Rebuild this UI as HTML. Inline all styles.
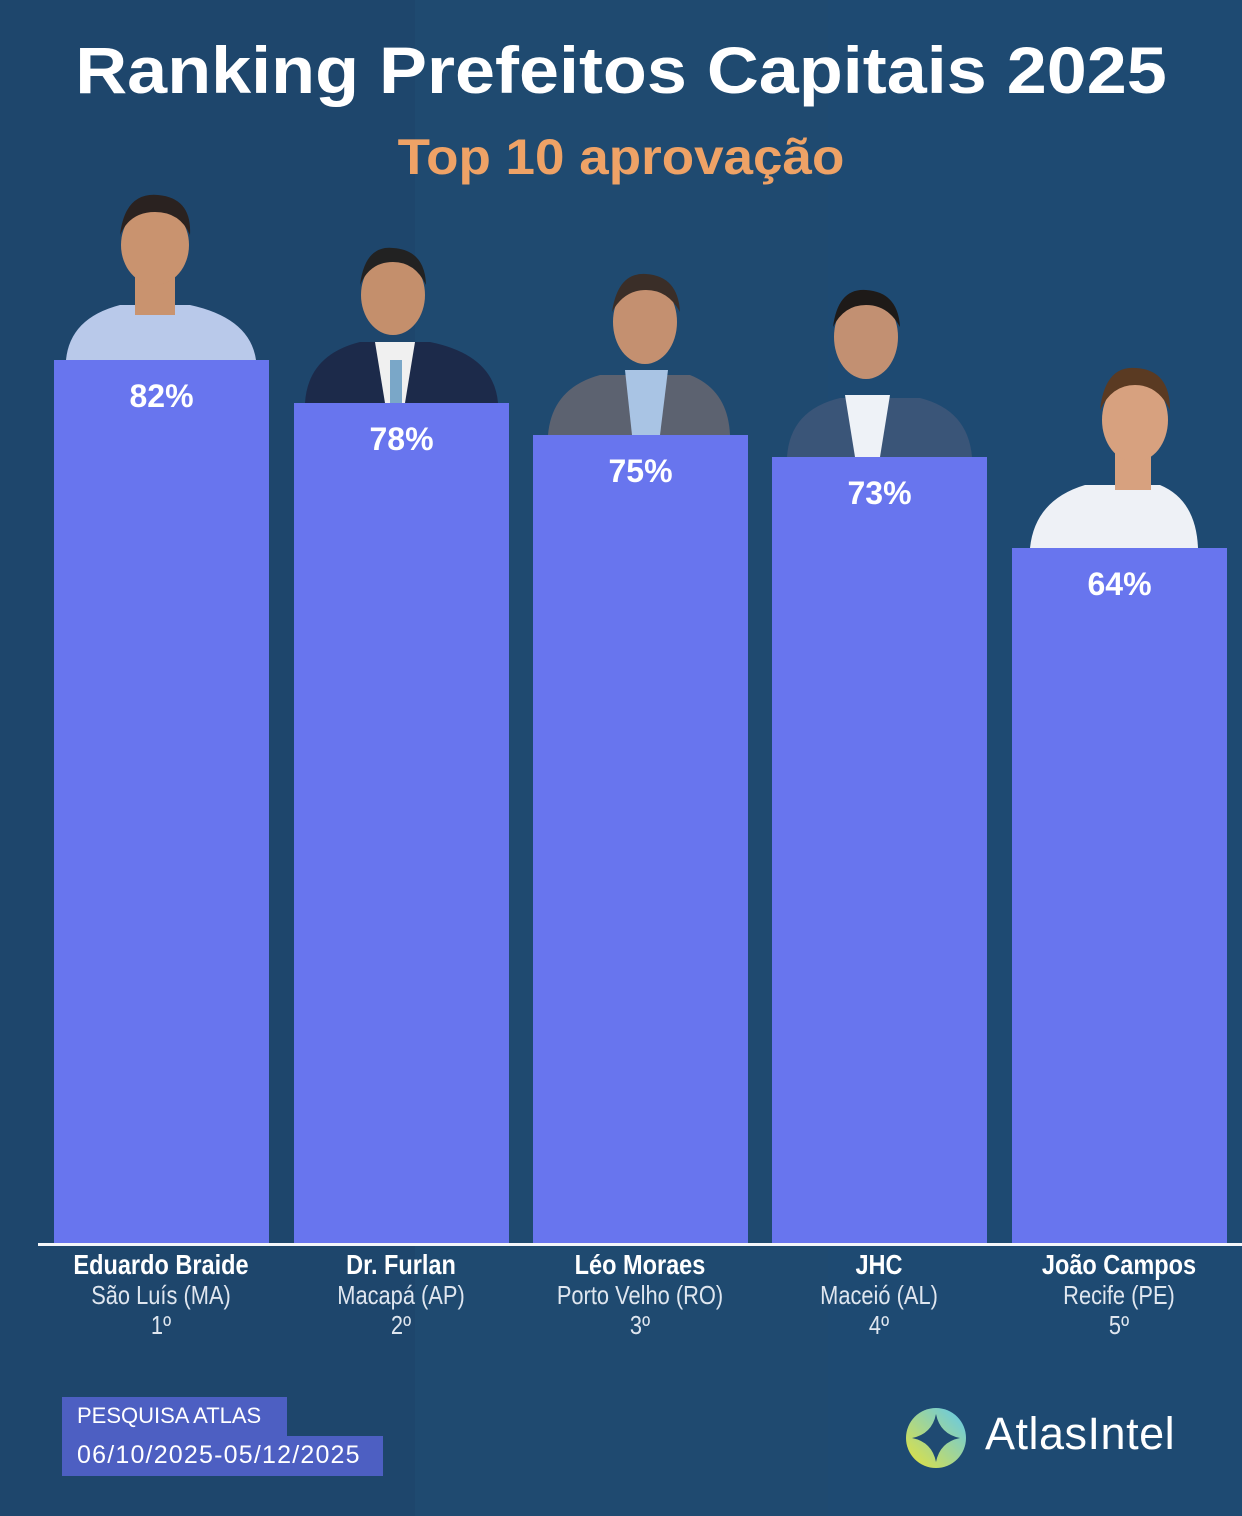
<!DOCTYPE html>
<html><head><meta charset="utf-8"><style>
body{margin:0;width:1242px;height:1516px;background:#1f4a70;position:relative;overflow:hidden;font-family:"Liberation Sans",sans-serif}
.t{position:absolute;left:0;width:1242px;text-align:center;font-weight:bold}
.bar{position:absolute;background:#6875ee;bottom:272px;width:215px}
.pct{position:absolute;width:215px;text-align:center;color:#fff;font-weight:bold;font-size:32px}
.lab{position:absolute;top:1250px;width:240px;text-align:center;color:#dfe6ef;font-size:26px;line-height:30px;transform:scaleX(0.84)}
.lab b{color:#fff;font-size:28px}
</style></head><body>
<div style="position:absolute;left:0;top:0;width:415px;height:1516px;background:#1e466c"></div>
<div style="position:absolute;left:828px;top:0;width:414px;height:1516px;background:#1e4a72"></div>
<div class="t" style="top:32px;font-size:66px;color:#fff;transform:scaleX(1.09)">Ranking Prefeitos Capitais 2025</div>
<div class="t" style="top:128px;font-size:50px;color:#eea266;transform:scaleX(1.06)">Top 10 aprovação</div>
<svg style="position:absolute;left:0;top:0" width="1242" height="560">
<g><path d="M66,360 Q70,318 120,305 L190,305 Q250,318 256,360Z" fill="#b9c9ea"/><rect x="135" y="270" width="40" height="45" fill="#c9936f"/><ellipse cx="155" cy="245" rx="34" ry="40" fill="#c9936f"/><path d="M120,235 Q125,192 158,195 Q192,198 190,235 Q180,212 155,212 Q130,212 120,235Z" fill="#2a2220"/></g>
<g><path d="M305,403 Q308,355 360,342 L430,342 Q494,355 498,403Z" fill="#1c2a4a"/><path d="M375,342 L415,342 L405,403 L385,403Z" fill="#f0f0f0"/><rect x="390" y="360" width="12" height="43" fill="#7aa7c8"/><ellipse cx="393" cy="295" rx="32" ry="40" fill="#c48f6c"/><path d="M360,285 Q365,245 393,248 Q425,250 426,285 Q415,262 393,262 Q370,262 360,285Z" fill="#222"/></g>
<g><path d="M548,435 Q552,388 600,375 L690,375 Q728,390 730,435Z" fill="#5c6270"/><path d="M625,370 L668,370 L660,435 L632,435Z" fill="#a9c4e4"/><ellipse cx="645" cy="322" rx="32" ry="42" fill="#c49070"/><path d="M612,312 Q618,272 646,274 Q678,276 680,312 Q668,290 646,290 Q624,290 612,312Z" fill="#3a2e28"/></g>
<g><path d="M787,457 Q790,410 840,398 L920,398 Q968,410 972,457Z" fill="#3a5578"/><path d="M845,395 L890,395 L880,457 L855,457Z" fill="#eef2f7"/><ellipse cx="866" cy="337" rx="32" ry="42" fill="#c29072"/><path d="M833,327 Q838,288 866,290 Q898,292 900,327 Q888,305 866,305 Q844,305 833,327Z" fill="#1e1a18"/></g>
<g><path d="M1030,548 Q1035,500 1085,485 L1160,485 Q1196,500 1198,548Z" fill="#eef1f6"/><rect x="1115" y="440" width="36" height="50" fill="#d7a17f"/><ellipse cx="1135" cy="420" rx="33" ry="42" fill="#d7a17f"/><path d="M1100,410 Q1105,365 1136,368 Q1170,370 1170,410 Q1158,385 1135,385 Q1112,385 1100,410Z" fill="#5a3a22"/></g>
</svg>
<div class="bar" style="left:54px;top:360px"></div>
<div class="bar" style="left:294px;top:403px"></div>
<div class="bar" style="left:533px;top:435px"></div>
<div class="bar" style="left:772px;top:457px"></div>
<div class="bar" style="left:1012px;top:548px"></div>
<div class="pct" style="left:54px;top:378px">82%</div>
<div class="pct" style="left:294px;top:421px">78%</div>
<div class="pct" style="left:533px;top:453px">75%</div>
<div class="pct" style="left:772px;top:475px">73%</div>
<div class="pct" style="left:1012px;top:566px">64%</div>
<div style="position:absolute;left:38px;top:1243px;width:1204px;height:3px;background:#f4f6fa"></div>
<div class="lab" style="left:41px"><b>Eduardo Braide</b><br>São Luís (MA)<br>1º</div>
<div class="lab" style="left:281px"><b>Dr. Furlan</b><br>Macapá (AP)<br>2º</div>
<div class="lab" style="left:520px"><b>Léo Moraes</b><br>Porto Velho (RO)<br>3º</div>
<div class="lab" style="left:759px"><b>JHC</b><br>Maceió (AL)<br>4º</div>
<div class="lab" style="left:999px"><b>João Campos</b><br>Recife (PE)<br>5º</div>
<div style="position:absolute;left:62px;top:1397px;width:225px;height:40px;background:#4d5fc2"></div>
<div style="position:absolute;left:62px;top:1436px;width:321px;height:40px;background:#4d5fc2"></div>
<div style="position:absolute;left:77px;top:1403px;color:#fff;font-size:22px">PESQUISA ATLAS</div>
<div style="position:absolute;left:77px;top:1441px;color:#fff;font-size:25px;letter-spacing:1.2px">06/10/2025-05/12/2025</div>
<svg style="position:absolute;left:900px;top:1402px" width="72" height="72"><defs><linearGradient id="g" x1="1" y1="0" x2="0" y2="1"><stop offset="0" stop-color="#5fc8ef"/><stop offset="1" stop-color="#e6e23a"/></linearGradient></defs><circle cx="36" cy="36" r="30" fill="url(#g)"/><path d="M36,12 Q40,32 60,36 Q40,40 36,60 Q32,40 12,36 Q32,32 36,12Z" fill="#1f4a72"/></svg>
<div style="position:absolute;left:985px;top:1408px;color:#fff;font-size:45px;letter-spacing:0.5px">AtlasIntel</div>
</body></html>
